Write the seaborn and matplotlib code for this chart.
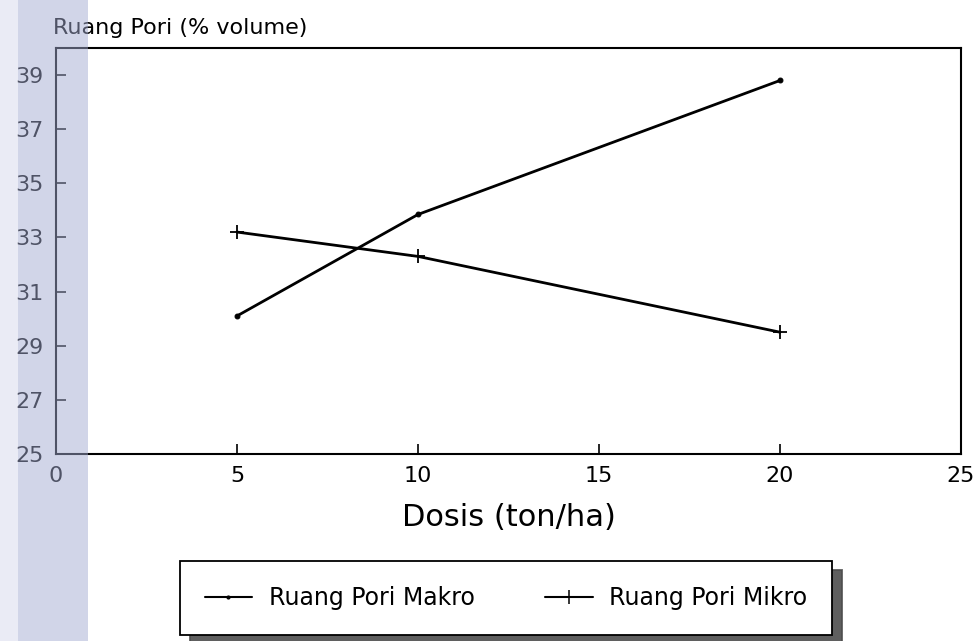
import matplotlib
matplotlib.use("Agg")
import matplotlib.pyplot as plt
import seaborn as sns
import pandas as pd
from matplotlib.patches import Rectangle
from matplotlib.lines import Line2D

# ---- data ----
dosis = [5, 10, 20]
makro = [30.1, 33.85, 38.8]
mikro = [33.2, 32.3, 29.5]
series_names = ["Ruang Pori Makro", "Ruang Pori Mikro"]
x_ticks = [0, 5, 10, 15, 20, 25]
y_ticks = [25, 27, 29, 31, 33, 35, 37, 39]
x_label = "Dosis (ton/ha)"
y_label = "Ruang Pori (% volume)"

sns.set_theme(style="white")
plt.rcParams["font.family"] = ["DejaVu Sans"]

df_makro = pd.DataFrame({"Dosis": dosis, "Nilai": makro})
df_mikro = pd.DataFrame({"Dosis": dosis, "Nilai": mikro})

fig = plt.figure(figsize=(9.79, 6.41), dpi=100)
ax = fig.add_axes([56 / 979, 1 - 454 / 641, (961 - 56) / 979, (454 - 48) / 641])

sns.lineplot(data=df_makro, x="Dosis", y="Nilai", color="black", marker="o",
             markersize=3.5, markeredgecolor="black", markerfacecolor="black",
             linewidth=2.0, ax=ax, legend=False)
sns.lineplot(data=df_mikro, x="Dosis", y="Nilai", color="black", marker="+",
             markersize=10, markeredgewidth=1.3, markeredgecolor="black",
             linewidth=2.0, ax=ax, legend=False)

ax.set_xlim(0, 25)
ax.set_ylim(25, 40)
ax.set_xticks(x_ticks)
ax.set_yticks(y_ticks)
ax.tick_params(axis="both", which="major", direction="in", length=7, width=1.2,
               color="black", labelcolor="black", labelsize=16, pad=9,
               bottom=True, left=True, top=False, right=False)
for s in ax.spines.values():
    s.set_color("black")
    s.set_linewidth(1.5)
ax.set_xlabel(x_label, fontsize=22, labelpad=12, color="black")
ax.set_ylabel("")
fig.text(53 / 979, 1 - 34 / 641, y_label, fontsize=16, ha="left", va="baseline", color="black")

# legend
h1 = Line2D([], [], color="black", lw=1.5, marker="o", markersize=2,
            markeredgecolor="black", markerfacecolor="black")
h2 = Line2D([], [], color="black", lw=1.5, marker="+", markersize=10,
            markeredgewidth=1.1, markeredgecolor="black")
leg = fig.legend([h1, h2], series_names, loc="center", bbox_to_anchor=(506 / 979, 1 - 598 / 641),
                 ncol=2, fontsize=17, frameon=True, fancybox=False, framealpha=1,
                 edgecolor="black", handlelength=2.0, handletextpad=0.7, columnspacing=3.0,
                 borderpad=1.05, shadow={"ox": 7, "oy": -6, "alpha": 0.9})
leg.get_frame().set_linewidth(1.3)
for t in leg.get_texts():
    t.set_color("black")

# scanned-page stripe at the left
fig.patches.append(Rectangle((0, 0), 18 / 979, 1, transform=fig.transFigure,
                             facecolor=(0.82, 0.83, 0.92), alpha=0.45, edgecolor="none", zorder=10))
fig.patches.append(Rectangle((18 / 979, 0), 70 / 979, 1, transform=fig.transFigure,
                             facecolor=(0.64, 0.67, 0.82), alpha=0.49, edgecolor="none", zorder=10))

fig.savefig("out.png", dpi=100)
